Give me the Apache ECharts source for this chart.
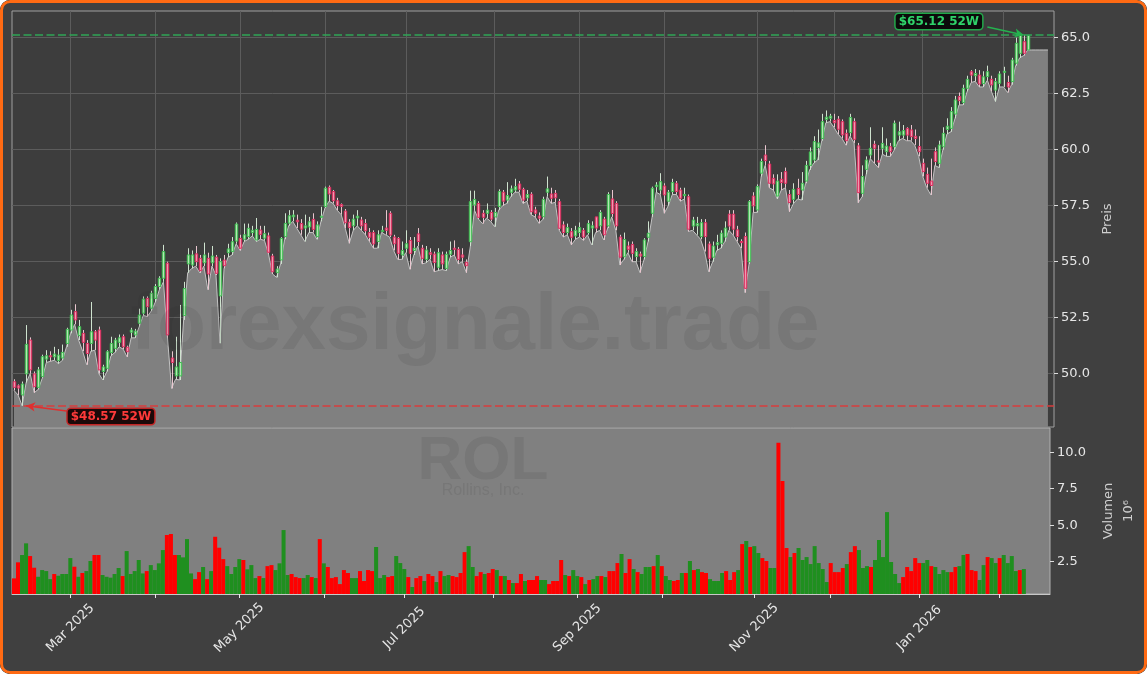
<!DOCTYPE html>
<html><head><meta charset="utf-8">
<script src="https://cdn.jsdelivr.net/npm/echarts@6/dist/echarts.min.js"></script>
<style>
html,body{margin:0;padding:0;background:#ffffff;}
#wrap{position:relative;width:1147px;height:674px;border-radius:10px;overflow:hidden;background:#404040;}
#chart{position:absolute;left:0;top:0;width:1147px;height:674px;}
#frame{position:absolute;left:0;top:0;width:1147px;height:674px;box-sizing:border-box;border:3px solid #ff6a13;border-radius:10px;pointer-events:none;}
</style></head><body>
<div id="wrap"><div id="chart"></div><div id="frame"></div></div>
<script>
// ---- categories: trading days per month ----
const monthKeys = ['2025-02','2025-03','2025-04','2025-05','2025-06','2025-07','2025-08','2025-09','2025-10','2025-11','2025-12','2026-01','2026-02'];
const monthDays = [
 [10,11,12,13,14,18,19,20,21,24,25,26,27,28],
 [3,4,5,6,7,10,11,12,13,14,17,18,19,20,21,24,25,26,27,28,31],
 [1,2,3,4,7,8,9,10,11,14,15,16,17,21,22,23,24,25,28,29,30],
 [1,2,5,6,7,8,9,12,13,14,15,16,19,20,21,22,23,27,28,29,30],
 [2,3,4,5,6,9,10,11,12,13,16,17,18,20,23,24,25,26,27,30],
 [1,2,3,7,8,9,10,11,14,15,16,17,18,21,22,23,24,25,28,29,30,31],
 [1,4,5,6,7,8,11,12,13,14,15,18,19,20,21,22,25,26,27,28,29],
 [2,3,4,5,8,9,10,11,12,15,16,17,18,19,22,23,24,25,26,29,30],
 [1,2,3,6,7,8,9,10,13,14,15,16,17,20,21,22,23,24,27,28,29,30,31],
 [3,4,5,6,7,10,11,12,13,14,17,18,19,20,21,24,25,26,28],
 [1,2,3,4,5,8,9,10,11,12,15,16,17,18,19,22,23,24,26,29,30,31],
 [2,5,6,7,8,9,12,13,14,15,16,20,21,22,23,26,27,28,29,30],
 [2,3,4,5,6,9,10]
];
const monthLabels = ['', 'Mar 2025', '', 'May 2025', '', 'Jul 2025', '', 'Sep 2025', '', 'Nov 2025', '', 'Jan 2026', ''];
const monthTick = [0,1,1,1,1,1,1,1,1,1,1,1,1];
const padCats = ['p1','p2','p3','p4','p5','p6'];

// ---- price data (USD) ----
const open = [
49.64,49.46,49.05,49.99,51.5,49.99,49.39,49.87,50.65,50.8,
50.75,50.58,50.7,51.35,51.95,52.77,51.7,51.8,51.35,51.35,
51.87,51.95,50.1,50.24,50.94,51.13,51.4,51.65,51.18,51.85,
51.73,52.25,52.7,53.36,52.92,53.36,53.89,54.26,54.93,50.7,
49.9,49.9,52.6,54.9,54.85,55.35,55.15,54.95,55.15,54.95,
55.2,53.47,55.07,55.4,55.45,55.92,56.04,56.0,56.12,56.3,
55.97,56.41,56.05,56.15,55.25,54.51,55.08,56.12,56.72,57.0,
56.85,56.7,56.5,56.55,56.89,56.12,56.98,57.46,58.32,58.13,
57.72,57.55,57.26,56.76,56.6,56.95,56.86,56.7,56.3,56.3,
55.9,56.35,56.5,57.16,56.1,56.04,55.3,55.6,55.95,55.5,
56.24,55.6,55.1,55.4,55.34,54.75,55.3,54.7,55.33,55.6,
55.55,55.3,54.97,55.89,57.53,57.6,57.16,57.16,57.2,57.0,
57.46,58.1,57.75,58.1,58.2,58.47,58.23,57.85,58.01,57.31,
57.04,57.01,58.1,58.02,58.05,57.68,56.64,56.3,56.34,56.15,
56.3,56.4,56.3,56.5,57.0,56.6,56.9,56.6,57.8,57.6,
56.1,55.22,55.7,55.77,55.23,55.34,55.23,56.09,57.16,58.35,
58.2,58.38,57.7,58.13,58.5,58.2,57.95,57.9,56.59,56.6,
56.12,56.74,55.79,55.2,55.75,55.82,56.1,57.12,57.12,56.42,
55.9,56.12,55.0,57.93,57.31,58.95,59.76,59.36,58.72,57.93,
58.68,59.02,58.0,57.78,58.27,58.2,58.6,59.3,59.54,60.1,
60.5,61.35,61.4,61.3,61.36,61.25,60.73,60.76,61.25,60.17,
58.05,59.12,59.76,60.24,59.5,60.06,59.91,60.13,60.13,60.65,
60.65,60.95,60.88,60.6,60.14,59.39,58.9,58.6,59.91,59.39,
60.13,60.9,60.95,61.59,62.37,62.1,62.74,63.48,63.3,63.33,
62.95,63.26,63.14,62.66,62.96,63.45,63.0,63.04,63.86,64.3,
64.82,64.45
];
const close = [
49.39,49.36,49.54,51.31,50.17,49.42,50.17,50.76,50.8,50.75,
50.88,50.83,50.95,51.98,52.62,52.4,52.1,51.4,50.9,51.87,
51.5,50.17,50.3,50.98,51.35,51.5,51.6,51.2,50.98,51.95,
51.9,52.62,53.33,52.99,53.59,53.89,54.26,55.45,51.73,50.5,
50.3,50.5,53.8,55.3,55.3,55.0,54.6,55.3,54.45,55.25,
54.48,55.0,54.82,55.57,55.89,56.68,55.6,56.2,56.49,56.4,
56.44,56.22,56.25,55.42,54.55,54.67,56.04,56.71,57.05,57.08,
56.78,56.45,56.6,56.78,56.44,56.64,57.03,58.28,58.02,57.72,
57.5,57.47,56.74,56.52,56.9,57.03,56.6,56.38,56.09,55.79,
56.2,56.4,56.4,56.19,55.8,55.37,55.5,55.8,55.37,55.6,
55.9,55.15,55.52,55.33,54.96,55.4,54.9,55.33,55.5,55.55,
55.1,55.2,54.82,57.68,57.78,56.98,56.98,57.3,56.9,57.2,
58.13,57.7,57.95,58.25,58.35,58.23,57.75,58.0,57.23,57.16,
56.94,57.78,58.25,57.83,57.85,56.49,56.3,56.52,56.09,56.4,
56.52,56.1,56.7,56.6,56.5,57.2,56.2,58.0,57.15,56.6,
55.2,55.99,55.55,55.37,55.45,55.25,55.97,56.27,58.28,58.42,
58.57,57.98,58.1,58.53,58.13,57.83,58.0,56.45,56.86,56.7,
56.74,56.12,55.15,55.7,55.85,56.27,56.5,56.59,56.45,56.12,
55.85,53.81,57.68,57.49,58.35,59.47,59.51,58.5,58.47,58.6,
58.53,58.5,57.64,58.23,58.0,58.5,59.3,59.9,60.36,60.3,
61.25,61.45,61.5,61.2,60.91,60.66,60.4,61.44,60.46,58.08,
58.8,59.54,60.06,60.06,59.45,60.28,60.16,59.91,61.18,60.8,
60.85,60.65,60.58,60.5,59.91,59.02,58.5,58.4,59.47,60.21,
60.73,61.05,61.7,62.22,62.19,62.74,63.14,63.33,63.4,62.93,
63.25,63.48,62.89,63.04,63.38,63.5,62.8,64.0,64.75,65.1,
64.3,65.1
];
const low = [
49.25,49.05,48.57,49.6,50.0,49.15,49.3,49.8,50.5,50.55,
50.6,50.45,50.6,51.2,51.8,52.2,51.5,51.0,50.4,51.0,
51.05,50.0,49.72,50.1,50.8,50.95,51.2,51.1,50.75,51.6,
51.6,52.1,52.6,52.55,52.8,53.2,53.75,54.1,51.6,49.34,
49.75,49.72,52.4,54.5,54.7,54.8,54.5,54.8,53.75,54.8,
54.4,51.36,54.7,55.2,55.3,55.8,55.5,55.9,56.0,56.15,
55.9,56.0,55.95,55.35,54.45,54.3,54.9,56.0,56.6,56.8,
56.5,56.2,55.9,56.3,56.3,56.0,56.8,57.4,57.7,57.6,
57.3,57.1,56.5,55.82,56.4,56.6,56.4,56.2,55.9,55.6,
55.6,56.3,56.2,56.1,55.5,55.1,55.1,55.4,54.66,55.3,
55.7,54.9,54.95,55.1,54.55,54.6,54.65,54.6,55.2,55.3,
54.9,55.0,54.51,55.7,57.3,56.9,56.7,56.95,56.8,56.56,
57.3,57.5,57.6,57.9,58.1,58.1,57.6,57.7,57.1,57.0,
56.71,56.9,57.9,57.6,57.65,56.4,56.1,56.2,55.75,56.0,
56.1,55.95,56.2,55.75,56.3,56.4,55.97,56.5,57.0,56.4,
54.85,55.1,55.4,55.0,55.0,54.51,55.1,55.9,57.0,58.1,
58.0,57.16,57.5,58.0,58.0,57.7,57.8,56.35,56.4,56.2,
56.0,55.45,54.55,55.0,55.5,55.6,55.9,56.4,56.2,55.9,
55.6,53.62,54.9,57.2,57.2,58.8,59.3,58.3,58.2,57.8,
58.2,58.3,57.23,57.6,57.8,57.75,58.5,59.1,59.4,59.54,
60.4,61.2,61.25,61.0,60.7,60.5,60.2,60.6,60.3,57.63,
57.9,58.9,59.6,59.4,59.2,59.8,59.7,59.7,60.0,60.4,
60.5,60.4,60.4,60.2,59.7,58.8,58.3,57.98,59.3,59.2,
60.0,60.7,60.8,61.4,62.0,62.0,62.6,63.0,63.05,62.8,
62.8,63.1,62.6,62.15,62.8,62.8,62.55,62.9,63.75,64.1,
64.2,64.45
];
const high = [
49.75,49.52,49.65,52.17,51.62,50.1,50.3,50.85,51.05,51.0,
51.2,51.1,51.3,52.05,52.85,53.1,52.4,51.95,51.5,53.2,
51.95,52.1,50.4,51.05,51.65,51.6,51.75,51.75,51.25,52.05,
52.0,52.9,53.45,53.45,53.7,54.0,54.35,55.75,55.0,51.0,
51.65,53.07,54.1,55.6,55.5,55.7,55.3,55.85,55.4,55.7,
55.3,55.15,55.3,55.8,56.1,56.75,56.2,56.7,56.7,56.6,
56.95,56.6,56.6,56.3,55.35,54.8,56.1,57.16,57.3,57.3,
57.1,56.9,57.1,57.0,57.16,56.8,57.45,58.35,58.4,58.2,
57.85,57.6,57.35,56.9,57.1,57.3,57.0,56.9,56.5,56.4,
56.4,56.6,57.3,57.25,56.2,56.1,55.9,56.4,56.1,56.1,
56.5,55.75,55.7,55.6,55.45,55.6,55.45,55.45,55.9,55.95,
55.65,55.6,55.1,58.17,58.17,57.7,57.3,57.6,57.3,57.4,
58.23,58.2,58.55,58.4,58.7,58.6,58.3,58.2,58.1,57.45,
57.2,57.9,58.8,58.3,58.2,57.8,56.8,56.7,56.5,56.6,
56.75,56.5,56.85,56.8,57.0,57.3,57.0,58.1,58.2,57.7,
56.2,56.3,55.9,55.9,55.6,55.45,56.05,56.8,58.35,58.55,
58.95,58.5,58.2,58.7,58.6,58.3,58.3,58.0,57.0,57.0,
56.9,56.9,55.9,55.9,56.2,56.4,56.8,57.3,57.3,56.6,
56.0,56.3,57.75,58.1,58.45,59.6,60.2,59.5,58.9,58.9,
59.0,59.2,58.2,58.5,58.7,59.0,59.5,60.1,60.6,60.9,
61.6,61.75,61.6,61.6,61.5,61.35,60.9,61.6,61.4,60.3,
59.3,59.7,61.0,60.4,60.2,61.0,60.5,60.3,61.3,61.25,
61.1,61.0,61.1,60.9,60.6,59.6,59.2,59.6,60.1,60.4,
61.0,61.4,61.9,62.4,62.55,62.9,63.3,63.55,63.6,63.55,
63.5,63.75,63.3,63.2,63.5,63.7,63.3,64.1,65.0,65.1,
65.12,65.05
];
// flat extension of the shaded area after the last bar (as drawn in the picture)
const areaTail = [64.45,64.45,64.45,64.45,64.45];

// ---- volume (millions) and bar colour direction ----
const volume = [
1.36,2.46,2.96,3.76,2.89,2.09,1.47,1.93,1.86,1.31,
1.66,1.54,1.66,1.66,2.75,2.16,1.47,1.73,1.86,2.55,
2.96,2.96,1.59,1.47,1.41,1.66,2.07,1.52,3.23,1.66,
1.86,2.62,1.70,1.86,2.27,1.93,2.39,3.30,4.33,4.40,
2.96,2.96,2.80,4.05,1.70,1.31,1.79,2.14,1.31,1.86,
4.21,3.46,2.68,2.20,1.66,2.14,2.68,2.62,1.98,2.27,
1.38,1.52,1.38,2.20,2.27,1.93,2.39,4.67,1.59,1.66,
1.45,1.38,1.38,1.59,1.45,1.38,4.05,2.39,2.14,1.38,
1.45,0.97,1.93,1.73,1.38,1.38,1.86,1.18,1.93,1.86,
3.51,1.38,1.59,1.45,1.52,2.89,2.41,2.00,1.45,0.77,
1.38,1.52,1.18,1.66,1.52,1.11,1.86,1.52,1.59,1.52,
1.45,1.73,3.16,3.57,2.14,1.52,1.79,1.66,1.73,2.00,
1.93,1.52,1.52,1.25,1.04,1.04,1.66,1.18,1.25,1.25,
1.52,1.25,1.25,0.97,1.18,1.18,2.62,1.59,1.52,1.93,
1.52,1.45,0.97,1.25,1.31,1.52,1.52,1.45,1.86,1.86,
2.41,3.03,1.73,2.68,2.00,1.79,1.66,2.14,2.14,2.20,
2.96,2.20,1.52,1.25,1.18,1.25,1.73,1.73,2.55,1.93,
2.00,1.79,1.73,1.31,1.18,1.18,1.73,1.86,1.25,1.79,
1.93,3.71,3.92,3.51,3.57,3.10,2.75,2.55,2.07,2.07,
10.65,8.03,3.44,2.82,3.10,3.44,2.62,2.82,2.34,3.57,
2.41,2.00,1.11,2.41,1.79,1.79,2.07,2.34,3.16,3.57,
3.30,2.07,2.20,2.14,2.62,3.99,2.82,5.90,2.48,1.66,
1.04,1.45,2.14,1.86,2.75,2.41,2.41,2.62,2.20,2.14,
1.66,1.93,1.79,1.79,2.14,2.20,2.96,3.03,1.93,1.86,
1.25,2.27,2.82,2.75,2.41,2.75,2.96,2.41,2.89,1.86,
1.93,2.00
];
const volumeDir =
 'rrggrrgggg' + 'rggggrgrgg' + 'rrgggggrgg' + 'gggrggggrr' + 'rggggrrgrg' +
 'rrrggggrgg' + 'grgrrggggr' + 'rrggrgrgrr' + 'rrrrggrrrr' + 'gggrrgggrg' +
 'rrgrrgrggr' + 'rrrggrrgrr' + 'grgrgrrgrr' + 'rggrrrrgrg' + 'grgrggrgrr' +
 'rgrrgrgggr' + 'grggrrgrgr' + 'grrggggrrr' + 'grgrggrrgg' + 'rrrgrggggg' +
 'gggrrrrgrr' + 'gggrgggggg' + 'grrrrrggrg' + 'gggrrggrrr' + 'ggrggrgggg' +
 'rg';

const priceTicks = [50, 52.5, 55, 57.5, 60, 62.5, 65];
const volumeTicks = [2.5, 5, 7.5, 10];

// ---- build categories & tick positions ----
const dates = [];
const tickIdx = new Set();
const labelAt = {};
monthKeys.forEach((m, k) => {
  monthDays[k].forEach((d, j) => {
    if (j === 0 && monthTick[k]) { tickIdx.add(dates.length); if (monthLabels[k]) labelAt[dates.length] = monthLabels[k]; }
    dates.push(m + '-' + String(d).padStart(2, '0'));
  });
});
const categories = dates.concat(padCats);
const N = dates.length;

const candleData = [];
for (let i = 0; i < N; i++) candleData.push([i, open[i], close[i], low[i], high[i]]);
const areaData = low.concat(areaTail);
const volData = volume.map((v, i) => ({ value: v, itemStyle: { color: volumeDir[i] === 'g' ? '#1f8f1f' : '#ff0000' } }));

const hi52 = Math.max.apply(null, high);
const lo52 = Math.min.apply(null, low);
const hiIdx = high.indexOf(hi52);
const loIdx = low.indexOf(lo52);

const FONT = 'DejaVu Sans';
const WICK_UP = '#cfe3cf', WICK_DN = '#e9c6cf';
const FILL_UP = '#b4e6b4', FILL_DN = '#f09ab0';
const EDGE_UP = '#3cbf50', EDGE_DN = '#e02a5e';

function renderCandle(params, api) {
  const i = api.value(0), o = api.value(1), c = api.value(2), l = api.value(3), h = api.value(4);
  const pO = api.coord([i, o]), pC = api.coord([i, c]);
  const pL = api.coord([i, l]), pH = api.coord([i, h]);
  const bw = api.size([1, 0])[0] * 0.6;
  const up = c >= o;
  const x = Math.round(pO[0]) + 0.5;
  const top = Math.min(pO[1], pC[1]);
  const hgt = Math.max(Math.abs(pO[1] - pC[1]), 1);
  return { type: 'group', children: [
    { type: 'line', shape: { x1: x, y1: pH[1], x2: x, y2: pL[1] }, style: { stroke: up ? WICK_UP : WICK_DN, lineWidth: 1 } },
    { type: 'rect', shape: { x: x - bw / 2, y: top, width: bw, height: hgt }, style: { fill: up ? FILL_UP : FILL_DN, stroke: up ? EDGE_UP : EDGE_DN, lineWidth: 1 } }
  ]};
}

const isTick = (idx) => tickIdx.has(idx);
const isLabel = (idx) => labelAt[idx] !== undefined;

const chart = echarts.init(document.getElementById('chart'), null, { renderer: 'canvas' });
const option = {
  backgroundColor: '#404040',
  animation: false,
  textStyle: { fontFamily: FONT },
  grid: [
    { left: 12, right: 93, top: 11, height: 416, show: true, backgroundColor: '#3d3d3d', borderColor: '#a0a0a0', borderWidth: 1 },
    { left: 12, right: 93, top: 428, height: 166, show: true, backgroundColor: '#808080', borderColor: '#b0b0b0', borderWidth: 1 }
  ],
  xAxis: [
    { type: 'category', gridIndex: 0, data: categories, boundaryGap: true,
      axisLine: { show: false },
      axisTick: { show: false, interval: isTick, alignWithLabel: true },
      axisLabel: { show: false, interval: isTick },
      splitLine: { show: true, interval: isTick, alignWithLabel: true, lineStyle: { color: '#5c5c5c', width: 1 } } },
    { type: 'category', gridIndex: 1, data: categories, boundaryGap: true,
      axisLine: { show: true, lineStyle: { color: '#c8c8c8', width: 1 } },
      axisTick: { show: true, interval: isTick, alignWithLabel: true, length: 4, lineStyle: { color: '#e8e8e8' } },
      axisLabel: { show: true, interval: isLabel, formatter: (v, idx) => labelAt[idx] || '',
        rotate: 45, align: 'center', verticalAlign: 'middle', margin: 34, color: '#e6e6e6', fontSize: 13, fontFamily: FONT },
      splitLine: { show: false } }
  ],
  yAxis: [
    { type: 'value', gridIndex: 0, position: 'right', min: 47.62, max: 66.19, scale: true,
      axisLine: { show: false },
      axisTick: { show: true, length: 4, customValues: priceTicks, lineStyle: { color: '#dddddd' } },
      axisLabel: { show: true, customValues: priceTicks, formatter: (v) => v.toFixed(1), color: '#e6e6e6', fontSize: 13, margin: 7, fontFamily: FONT },
      splitLine: { show: true, lineStyle: { color: '#5c5c5c', width: 1 } },
      name: 'Preis', nameLocation: 'middle', nameRotate: 90, nameGap: 46,
      nameTextStyle: { color: '#cfcfcf', fontSize: 13, fontFamily: FONT } },
    { type: 'value', gridIndex: 1, position: 'right', min: 0.29, max: 11.66,
      axisLine: { show: false },
      axisTick: { show: true, length: 4, customValues: volumeTicks, lineStyle: { color: '#dddddd' } },
      axisLabel: { show: true, customValues: volumeTicks, formatter: (v) => v.toFixed(1), color: '#e6e6e6', fontSize: 13, margin: 7, fontFamily: FONT },
      splitLine: { show: false },
      name: 'Volumen\n10⁶', nameLocation: 'middle', nameRotate: 90, nameGap: 49,
      nameTextStyle: { color: '#cfcfcf', fontSize: 13, lineHeight: 20, fontFamily: FONT } }
  ],
  graphic: [
    { type: 'text', z: 100, silent: true, x: 475, y: 327,
      style: { text: 'forexsignale.trade', font: 'bold 80px "Liberation Sans"', fill: 'rgba(40,40,40,0.10)', textAlign: 'center', textVerticalAlign: 'middle' } },
    { type: 'text', z: 100, silent: true, x: 483, y: 462,
      style: { text: 'ROL', font: 'bold 62px "Liberation Sans"', fill: 'rgba(40,40,40,0.10)', textAlign: 'center', textVerticalAlign: 'middle' } },
    { type: 'text', z: 100, silent: true, x: 483, y: 491,
      style: { text: 'Rollins, Inc.', font: '16px "Liberation Sans"', fill: 'rgba(40,40,40,0.10)', textAlign: 'center', textVerticalAlign: 'middle' } }
  ],
  series: [
    { name: 'area', type: 'line', xAxisIndex: 0, yAxisIndex: 0, data: areaData, symbol: 'none', silent: true, z: 2,
      lineStyle: { color: '#c4c4c4', width: 1 }, areaStyle: { color: '#808080', opacity: 1 },
      markLine: { silent: true, symbol: ['none', 'none'], label: { show: false }, animation: false,
        data: [
          { yAxis: hi52, lineStyle: { color: '#2fa556', width: 1.5, type: [8, 3.5] } },
          { yAxis: lo52, lineStyle: { color: '#d83c3c', width: 1.5, type: [8, 3.5] } },
          [ { coord: [hiIdx - 9, hi52 + 0.36], symbol: 'none', lineStyle: { color: '#25b24f', width: 1.5, type: 'solid' } },
            { coord: [hiIdx, hi52], symbol: 'arrow', symbolSize: [7, 9] } ],
          [ { coord: [loIdx + 11, lo52 - 0.24], symbol: 'none', lineStyle: { color: '#e02f2f', width: 1.5, type: 'solid' } },
            { coord: [loIdx + 1, lo52], symbol: 'arrow', symbolSize: [7, 9] } ]
        ] },
      markPoint: { silent: true, animation: false,
        data: [
          { coord: [hiIdx - 21, hi52 + 0.6], symbol: 'rect', symbolSize: [1, 1], itemStyle: { color: 'rgba(0,0,0,0)' },
            label: { show: true, position: 'inside', formatter: '$' + hi52.toFixed(2) + ' 52W', color: '#2fd36a', fontWeight: 'bold', fontSize: 12, fontFamily: FONT,
              backgroundColor: '#0b0b0b', borderColor: '#22a84a', borderWidth: 1.5, borderRadius: 3, padding: [2, 3, 1, 3] } },
          { coord: [loIdx + 22, lo52 - 0.48], symbol: 'rect', symbolSize: [1, 1], itemStyle: { color: 'rgba(0,0,0,0)' },
            label: { show: true, position: 'inside', formatter: '$' + lo52.toFixed(2) + ' 52W', color: '#ff3a3a', fontWeight: 'bold', fontSize: 12, fontFamily: FONT,
              backgroundColor: '#1c0909', borderColor: '#c42525', borderWidth: 1.5, borderRadius: 3, padding: [2, 3, 1, 3] } }
        ] } },
    { name: 'candles', type: 'custom', xAxisIndex: 0, yAxisIndex: 0, data: candleData, renderItem: renderCandle, z: 3, silent: true, clip: true,
      encode: { x: 0, y: [1, 2, 3, 4] } },
    { name: 'volume', type: 'bar', xAxisIndex: 1, yAxisIndex: 1, data: volData, barCategoryGap: '0%', barGap: '0%', silent: true, z: 2 }
  ]
};
chart.setOption(option);
</script>
</body></html>
